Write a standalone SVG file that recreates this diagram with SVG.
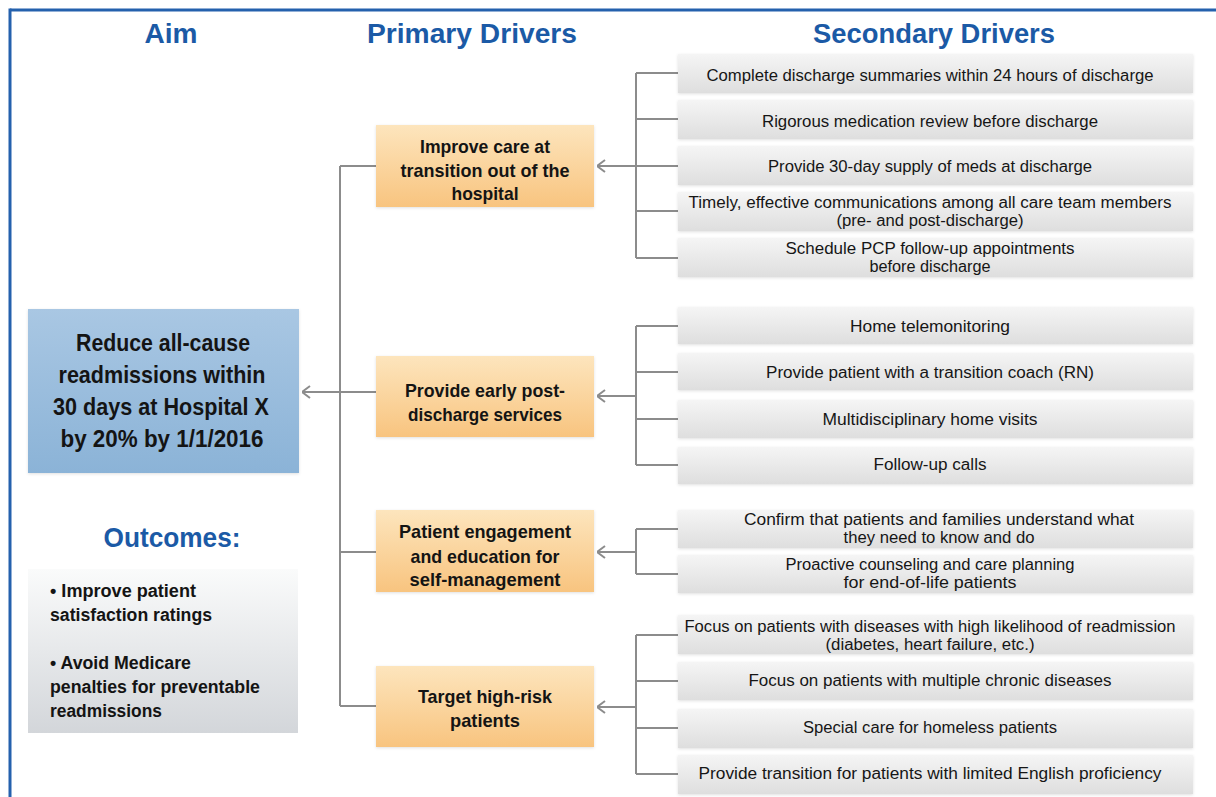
<svg xmlns="http://www.w3.org/2000/svg" width="1216" height="797" viewBox="0 0 1216 797">
  <defs>
    <linearGradient id="gAim" x1="0" y1="0" x2="0" y2="1">
      <stop offset="0" stop-color="#a9c7e3"/>
      <stop offset="1" stop-color="#8bb3d7"/>
    </linearGradient>
    <linearGradient id="gPrimary" x1="0" y1="0" x2="0" y2="1">
      <stop offset="0" stop-color="#fde5bd"/>
      <stop offset="1" stop-color="#f8c47f"/>
    </linearGradient>
    <linearGradient id="gSecondary" x1="0" y1="0" x2="0" y2="1">
      <stop offset="0" stop-color="#f5f5f5"/>
      <stop offset="1" stop-color="#dedede"/>
    </linearGradient>
    <linearGradient id="gOutcome" x1="0" y1="0" x2="0" y2="1">
      <stop offset="0" stop-color="#fafbfb"/>
      <stop offset="1" stop-color="#d3d6da"/>
    </linearGradient>
    <filter id="soft" x="-5%" y="-10%" width="110%" height="125%">
      <feDropShadow dx="0" dy="1" stdDeviation="1.5" flood-color="#000" flood-opacity="0.12"/>
    </filter>
    <marker id="arrow" viewBox="0 0 10 14" refX="9.5" refY="7" markerWidth="10" markerHeight="14" markerUnits="userSpaceOnUse" orient="auto">
      <path d="M1.5,1 L9.5,7 L1.5,13" fill="none" stroke="#8c8c8c" stroke-width="2"/>
    </marker>
  </defs>
  <style>
    .heading { font-family: "Liberation Sans", Arial, sans-serif; font-weight: bold; font-size: 27px; fill: #1b5aa6; text-anchor: middle; }
    .aimtxt { font-family: "Liberation Sans", Arial, sans-serif; font-weight: bold; font-size: 24px; fill: #141414; text-anchor: middle; }
    .ptxt { font-family: "Liberation Sans", Arial, sans-serif; font-weight: bold; font-size: 19px; fill: #141414; text-anchor: middle; }
    .stxt { font-family: "Liberation Sans", Arial, sans-serif; font-size: 16px; fill: #161616; text-anchor: middle; }
    .otxt { font-family: "Liberation Sans", Arial, sans-serif; font-weight: bold; font-size: 18px; fill: #141414; }
    .aim { fill: url(#gAim); filter: url(#soft); }
    .primary { fill: url(#gPrimary); filter: url(#soft); }
    .secondary { fill: url(#gSecondary); filter: url(#soft); }
    .outcome { fill: url(#gOutcome); }
    .conn line, .conn polyline { stroke: #8c8c8c; stroke-width: 2; fill: none; }
  </style>

  <rect width="1216" height="797" fill="#ffffff"/>

  <!-- frame -->
  <g id="frame" stroke="#2461ad" stroke-width="3" fill="none">
    <line x1="10" y1="10" x2="1216" y2="10"/>
    <line x1="10" y1="8.5" x2="10" y2="797"/>
  </g>

  <!-- column headings -->
  <g id="headings">
    <text class="heading" x="171" y="43" textLength="53" lengthAdjust="spacingAndGlyphs">Aim</text>
    <text class="heading" x="472" y="43" textLength="210" lengthAdjust="spacingAndGlyphs">Primary Drivers</text>
    <text class="heading" x="934" y="43" textLength="242" lengthAdjust="spacingAndGlyphs">Secondary Drivers</text>
  </g>

  <!-- connectors -->
  <g id="connectors" class="conn">
    <!-- primary drivers to aim -->
    <line x1="340" y1="166" x2="340" y2="706"/>
    <line x1="340" y1="166" x2="376" y2="166"/>
    <line x1="340" y1="552" x2="376" y2="552"/>
    <line x1="340" y1="706" x2="376" y2="706"/>
    <line x1="376" y1="392" x2="302" y2="392" marker-end="url(#arrow)"/>
    <!-- group 1 -->
    <line x1="636" y1="73" x2="636" y2="258"/>
    <line x1="636" y1="73" x2="678" y2="73"/>
    <line x1="636" y1="119" x2="678" y2="119"/>
    <line x1="636" y1="211" x2="678" y2="211"/>
    <line x1="636" y1="258" x2="678" y2="258"/>
    <line x1="678" y1="166" x2="597" y2="166" marker-end="url(#arrow)"/>
    <!-- group 2 -->
    <line x1="636" y1="326" x2="636" y2="465"/>
    <line x1="636" y1="326" x2="678" y2="326"/>
    <line x1="636" y1="372" x2="678" y2="372"/>
    <line x1="636" y1="419" x2="678" y2="419"/>
    <line x1="636" y1="465" x2="678" y2="465"/>
    <line x1="636" y1="396" x2="597" y2="396" marker-end="url(#arrow)"/>
    <!-- group 3 -->
    <line x1="636" y1="529" x2="636" y2="574"/>
    <line x1="636" y1="529" x2="678" y2="529"/>
    <line x1="636" y1="574" x2="678" y2="574"/>
    <line x1="636" y1="552" x2="597" y2="552" marker-end="url(#arrow)"/>
    <!-- group 4 -->
    <line x1="636" y1="635" x2="636" y2="774"/>
    <line x1="636" y1="635" x2="678" y2="635"/>
    <line x1="636" y1="681" x2="678" y2="681"/>
    <line x1="636" y1="728" x2="678" y2="728"/>
    <line x1="636" y1="774" x2="678" y2="774"/>
    <line x1="636" y1="707" x2="597" y2="707" marker-end="url(#arrow)"/>
  </g>

  <!-- aim -->
  <g id="aim">
    <rect class="aim" x="28" y="309" width="271" height="164"/>
    <text class="aimtxt" x="163" y="351" textLength="174" lengthAdjust="spacingAndGlyphs">Reduce all-cause</text>
    <text class="aimtxt" x="162" y="383" textLength="207" lengthAdjust="spacingAndGlyphs">readmissions within</text>
    <text class="aimtxt" x="161" y="415" textLength="216" lengthAdjust="spacingAndGlyphs">30 days at Hospital X</text>
    <text class="aimtxt" x="162" y="447" textLength="203" lengthAdjust="spacingAndGlyphs">by 20% by 1/1/2016</text>
  </g>

  <!-- outcomes -->
  <g id="outcomes">
    <text class="heading" x="172" y="547" textLength="137" lengthAdjust="spacingAndGlyphs">Outcomes:</text>
    <rect class="outcome" x="28" y="569" width="270" height="164"/>
    <text class="otxt" x="50" y="597" textLength="146" lengthAdjust="spacingAndGlyphs">• Improve patient</text>
    <text class="otxt" x="50" y="621" textLength="162" lengthAdjust="spacingAndGlyphs">satisfaction ratings</text>
    <text class="otxt" x="50" y="669" textLength="141" lengthAdjust="spacingAndGlyphs">• Avoid Medicare</text>
    <text class="otxt" x="50" y="693" textLength="210" lengthAdjust="spacingAndGlyphs">penalties for preventable</text>
    <text class="otxt" x="50" y="717" textLength="112" lengthAdjust="spacingAndGlyphs">readmissions</text>
  </g>

  <!-- primary drivers -->
  <g id="primary-1">
    <rect class="primary" x="376" y="125" width="218" height="82"/>
    <text class="ptxt" x="485" y="153" textLength="130" lengthAdjust="spacingAndGlyphs">Improve care at</text>
    <text class="ptxt" x="485" y="177" textLength="169" lengthAdjust="spacingAndGlyphs">transition out of the</text>
    <text class="ptxt" x="485" y="200" textLength="67" lengthAdjust="spacingAndGlyphs">hospital</text>
  </g>
  <g id="primary-2">
    <rect class="primary" x="376" y="356" width="218" height="81"/>
    <text class="ptxt" x="485" y="397" textLength="160" lengthAdjust="spacingAndGlyphs">Provide early post-</text>
    <text class="ptxt" x="485" y="421" textLength="154" lengthAdjust="spacingAndGlyphs">discharge services</text>
  </g>
  <g id="primary-3">
    <rect class="primary" x="376" y="510" width="218" height="82"/>
    <text class="ptxt" x="485" y="538" textLength="172" lengthAdjust="spacingAndGlyphs">Patient engagement</text>
    <text class="ptxt" x="485" y="563" textLength="149" lengthAdjust="spacingAndGlyphs">and education for</text>
    <text class="ptxt" x="485" y="586" textLength="151" lengthAdjust="spacingAndGlyphs">self-management</text>
  </g>
  <g id="primary-4">
    <rect class="primary" x="376" y="666" width="218" height="81"/>
    <text class="ptxt" x="485" y="703" textLength="134" lengthAdjust="spacingAndGlyphs">Target high-risk</text>
    <text class="ptxt" x="485" y="727" textLength="70" lengthAdjust="spacingAndGlyphs">patients</text>
  </g>

  <!-- secondary drivers: transition out of hospital -->
  <g id="secondary-1-1">
    <rect class="secondary" x="678" y="54" width="515" height="39"/>
    <text class="stxt" x="930" y="81" textLength="447" lengthAdjust="spacingAndGlyphs">Complete discharge summaries within 24 hours of discharge</text>
  </g>
  <g id="secondary-1-2">
    <rect class="secondary" x="678" y="100" width="515" height="39"/>
    <text class="stxt" x="930" y="127" textLength="336" lengthAdjust="spacingAndGlyphs">Rigorous medication review before discharge</text>
  </g>
  <g id="secondary-1-3">
    <rect class="secondary" x="678" y="146" width="515" height="39"/>
    <text class="stxt" x="930" y="172" textLength="324" lengthAdjust="spacingAndGlyphs">Provide 30-day supply of meds at discharge</text>
  </g>
  <g id="secondary-1-4">
    <rect class="secondary" x="678" y="192" width="515" height="39"/>
    <text class="stxt" x="930" y="208" textLength="483" lengthAdjust="spacingAndGlyphs">Timely, effective communications among all care team members</text>
    <text class="stxt" x="930" y="226" textLength="187" lengthAdjust="spacingAndGlyphs">(pre- and post-discharge)</text>
  </g>
  <g id="secondary-1-5">
    <rect class="secondary" x="678" y="238" width="515" height="39"/>
    <text class="stxt" x="930" y="254" textLength="289" lengthAdjust="spacingAndGlyphs">Schedule PCP follow-up appointments</text>
    <text class="stxt" x="930" y="272" textLength="121" lengthAdjust="spacingAndGlyphs">before discharge</text>
  </g>

  <!-- secondary drivers: early post-discharge services -->
  <g id="secondary-2-1">
    <rect class="secondary" x="678" y="307" width="515" height="37"/>
    <text class="stxt" x="930" y="332" textLength="160" lengthAdjust="spacingAndGlyphs">Home telemonitoring</text>
  </g>
  <g id="secondary-2-2">
    <rect class="secondary" x="678" y="353" width="515" height="37"/>
    <text class="stxt" x="930" y="378" textLength="328" lengthAdjust="spacingAndGlyphs">Provide patient with a transition coach (RN)</text>
  </g>
  <g id="secondary-2-3">
    <rect class="secondary" x="678" y="400" width="515" height="38"/>
    <text class="stxt" x="930" y="425" textLength="215" lengthAdjust="spacingAndGlyphs">Multidisciplinary home visits</text>
  </g>
  <g id="secondary-2-4">
    <rect class="secondary" x="678" y="447" width="515" height="37"/>
    <text class="stxt" x="930" y="470" textLength="113" lengthAdjust="spacingAndGlyphs">Follow-up calls</text>
  </g>

  <!-- secondary drivers: engagement and education -->
  <g id="secondary-3-1">
    <rect class="secondary" x="678" y="510" width="515" height="38"/>
    <text class="stxt" x="939" y="525" textLength="390" lengthAdjust="spacingAndGlyphs">Confirm that patients and families understand what</text>
    <text class="stxt" x="939" y="543" textLength="191" lengthAdjust="spacingAndGlyphs">they need to know and do</text>
  </g>
  <g id="secondary-3-2">
    <rect class="secondary" x="678" y="555" width="515" height="38"/>
    <text class="stxt" x="930" y="570" textLength="289" lengthAdjust="spacingAndGlyphs">Proactive counseling and care planning</text>
    <text class="stxt" x="930" y="588" textLength="173" lengthAdjust="spacingAndGlyphs">for end-of-life patients</text>
  </g>

  <!-- secondary drivers: high-risk patients -->
  <g id="secondary-4-1">
    <rect class="secondary" x="678" y="615" width="515" height="39"/>
    <text class="stxt" x="930" y="632" textLength="491" lengthAdjust="spacingAndGlyphs">Focus on patients with diseases with high likelihood of readmission</text>
    <text class="stxt" x="930" y="650" textLength="209" lengthAdjust="spacingAndGlyphs">(diabetes, heart failure, etc.)</text>
  </g>
  <g id="secondary-4-2">
    <rect class="secondary" x="678" y="662" width="515" height="38"/>
    <text class="stxt" x="930" y="686" textLength="363" lengthAdjust="spacingAndGlyphs">Focus on patients with multiple chronic diseases</text>
  </g>
  <g id="secondary-4-3">
    <rect class="secondary" x="678" y="709" width="515" height="39"/>
    <text class="stxt" x="930" y="733" textLength="254" lengthAdjust="spacingAndGlyphs">Special care for homeless patients</text>
  </g>
  <g id="secondary-4-4">
    <rect class="secondary" x="678" y="755" width="515" height="39"/>
    <text class="stxt" x="930" y="779" textLength="463" lengthAdjust="spacingAndGlyphs">Provide transition for patients with limited English proficiency</text>
  </g>
</svg>
